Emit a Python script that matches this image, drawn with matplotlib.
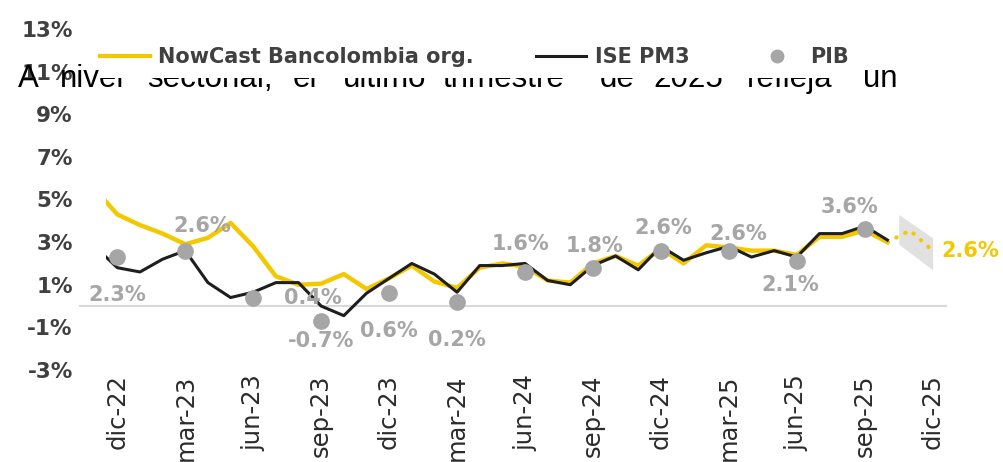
import numpy as np
import matplotlib.pyplot as plt
from matplotlib.lines import Line2D
from matplotlib.patches import Rectangle

plt.rcParams['font.family'] = 'DejaVu Sans'

# monthly series, nov-22 .. oct-25 (x = months after dic-22)
ise_pm3 = [2.8, 1.8, 1.6, 2.2, 2.6, 1.1, 0.4, 0.65, 1.1, 1.1, 0.0, -0.45,
           0.6, 1.3, 2.0, 1.5, 0.65, 1.9, 1.9, 2.0, 1.2, 1.0, 1.9, 2.35,
           1.7, 2.8, 2.15, 2.5, 2.8, 2.3, 2.6, 2.3, 3.4, 3.4, 3.75, 3.1]
nowcast = [5.5, 4.3, 3.8, 3.4, 2.9, 3.2, 3.9, 2.8, 1.4, 1.0, 1.05, 1.5,
           0.8, 1.3, 1.9, 1.15, 0.85, 1.8, 2.0, 1.85, 1.2, 1.1, 2.0, 2.35,
           1.9, 2.7, 2.0, 2.85, 2.75, 2.6, 2.6, 2.4, 3.25, 3.25, 3.55, 3.0]
# projection oct-25 .. dic-25
proyeccion = [3.0, 3.55, 2.6]
fan_x = [34.5, 36]
fan_bajo = [2.9, 1.7]
fan_alto = [4.3, 3.2]

# quarterly GDP, dic-22 .. sep-25
pib = [2.3, 2.6, 0.4, -0.7, 0.6, 0.2, 1.6, 1.8, 2.6, 2.6, 2.1, 3.6]
pib_offsets = [(0, -38), (17, 25), (60, 0), (0, -20), (0, -38), (0, -38),
               (-4, 28), (2, 22), (2, 23), (9, 17), (-7, -24), (-15, 22)]

trimestres = ['dic-22', 'mar-23', 'jun-23', 'sep-23', 'dic-23', 'mar-24', 'jun-24',
              'sep-24', 'dic-24', 'mar-25', 'jun-25', 'sep-25', 'dic-25']
y_ticks = [-3, -1, 1, 3, 5, 7, 9, 11, 13]

texto = [('A', 18), ('nivel', 60), ('sectorial,', 147), ('el', 293), ('último', 343),
         ('trimestre', 443), ('de', 600), ('2025', 653), ('refleja', 747), ('un', 863)]

W, H = 1004, 462
amarillo = '#f4c800'
gris = '#a6a6a6'

fig = plt.figure(figsize=(W / 100, H / 100), dpi=100)
ax = fig.add_axes([106 / W, 1 - 370 / H, 838 / W, 341 / H])

x_mes = np.arange(len(ise_pm3)) - 1
x_proy = np.arange(len(proyeccion)) + x_mes[-1]
x_pib = np.arange(len(pib)) * 3

ax.plot([-1.65, 36.6], [0, 0], color='#d9d9d9', lw=1.5, clip_on=False, zorder=1)
ax.fill_between(fan_x, fan_bajo, fan_alto, color='#bdbdbd', alpha=0.45, lw=0, zorder=1)
ax.plot(x_mes, nowcast, color=amarillo, lw=3.2, zorder=2)
ax.plot(x_proy, proyeccion, color=amarillo, lw=3, linestyle=(0, (0.1, 2.3)),
        dash_capstyle='round', zorder=2)
ax.plot(x_mes, ise_pm3, color='#1e1e1e', lw=2.2, zorder=3)
ax.plot(x_pib, pib, 'o', color=gris, ms=11, zorder=4)

for xp, v, off in zip(x_pib, pib, pib_offsets):
    ax.annotate(f'{v:.1f}%', (xp, v), xytext=off, textcoords='offset pixels',
                ha='center', va='center', fontsize=15, fontweight='bold', color=gris, zorder=5)
ax.annotate(f'{proyeccion[-1]:.1f}%', (x_proy[-1], proyeccion[-1]), xytext=(9, 0),
            textcoords='offset pixels', ha='left', va='center', fontsize=15,
            fontweight='bold', color=amarillo, annotation_clip=False)

ax.set_xlim(-0.5, 36.5)
ax.set_ylim(-3, 13)
ax.set_xticks(np.arange(len(trimestres)) * 3)
ax.set_xticklabels(trimestres, rotation=90, fontsize=17.5, color='#2b2b2b')
ax.set_yticks(y_ticks)
ax.set_yticklabels([f'{t}%' for t in y_ticks], fontsize=15.5, fontweight='bold', color='#404040')
ax.tick_params(axis='y', length=0, pad=24)
ax.tick_params(axis='x', length=0, pad=3)
for s in ax.spines.values():
    s.set_visible(False)

# overlay sentence, partly hidden behind the legend box
for palabra, xp in texto:
    fig.text(xp / W, 1 - 87 / H, palabra, family='Liberation Sans', fontsize=22.5,
             color='black', va='baseline', ha='left', zorder=3)
tapa = Rectangle((100 / W, 1 - 78 / H), 758 / W, 40 / H, transform=fig.transFigure,
                 facecolor='white', edgecolor='none', zorder=4)
fig.add_artist(tapa)

handles = [Line2D([], [], color=amarillo, lw=3),
           Line2D([], [], color='#1e1e1e', lw=2.2),
           Line2D([], [], marker='o', ls='', color=gris, ms=9)]
leg = fig.legend(handles, ['NowCast Bancolombia org.', 'ISE PM3', 'PIB'], ncol=3,
                 loc='center left', bbox_to_anchor=(100 / W, 1 - 57 / H), frameon=False,
                 borderpad=0, borderaxespad=0, handlelength=2.4, handletextpad=0.4,
                 columnspacing=3.0, prop={'size': 15, 'weight': 'bold'})
leg.set_zorder(5)
for t in leg.get_texts():
    t.set_color('#404040')

fig.savefig('out.png', dpi=100)
